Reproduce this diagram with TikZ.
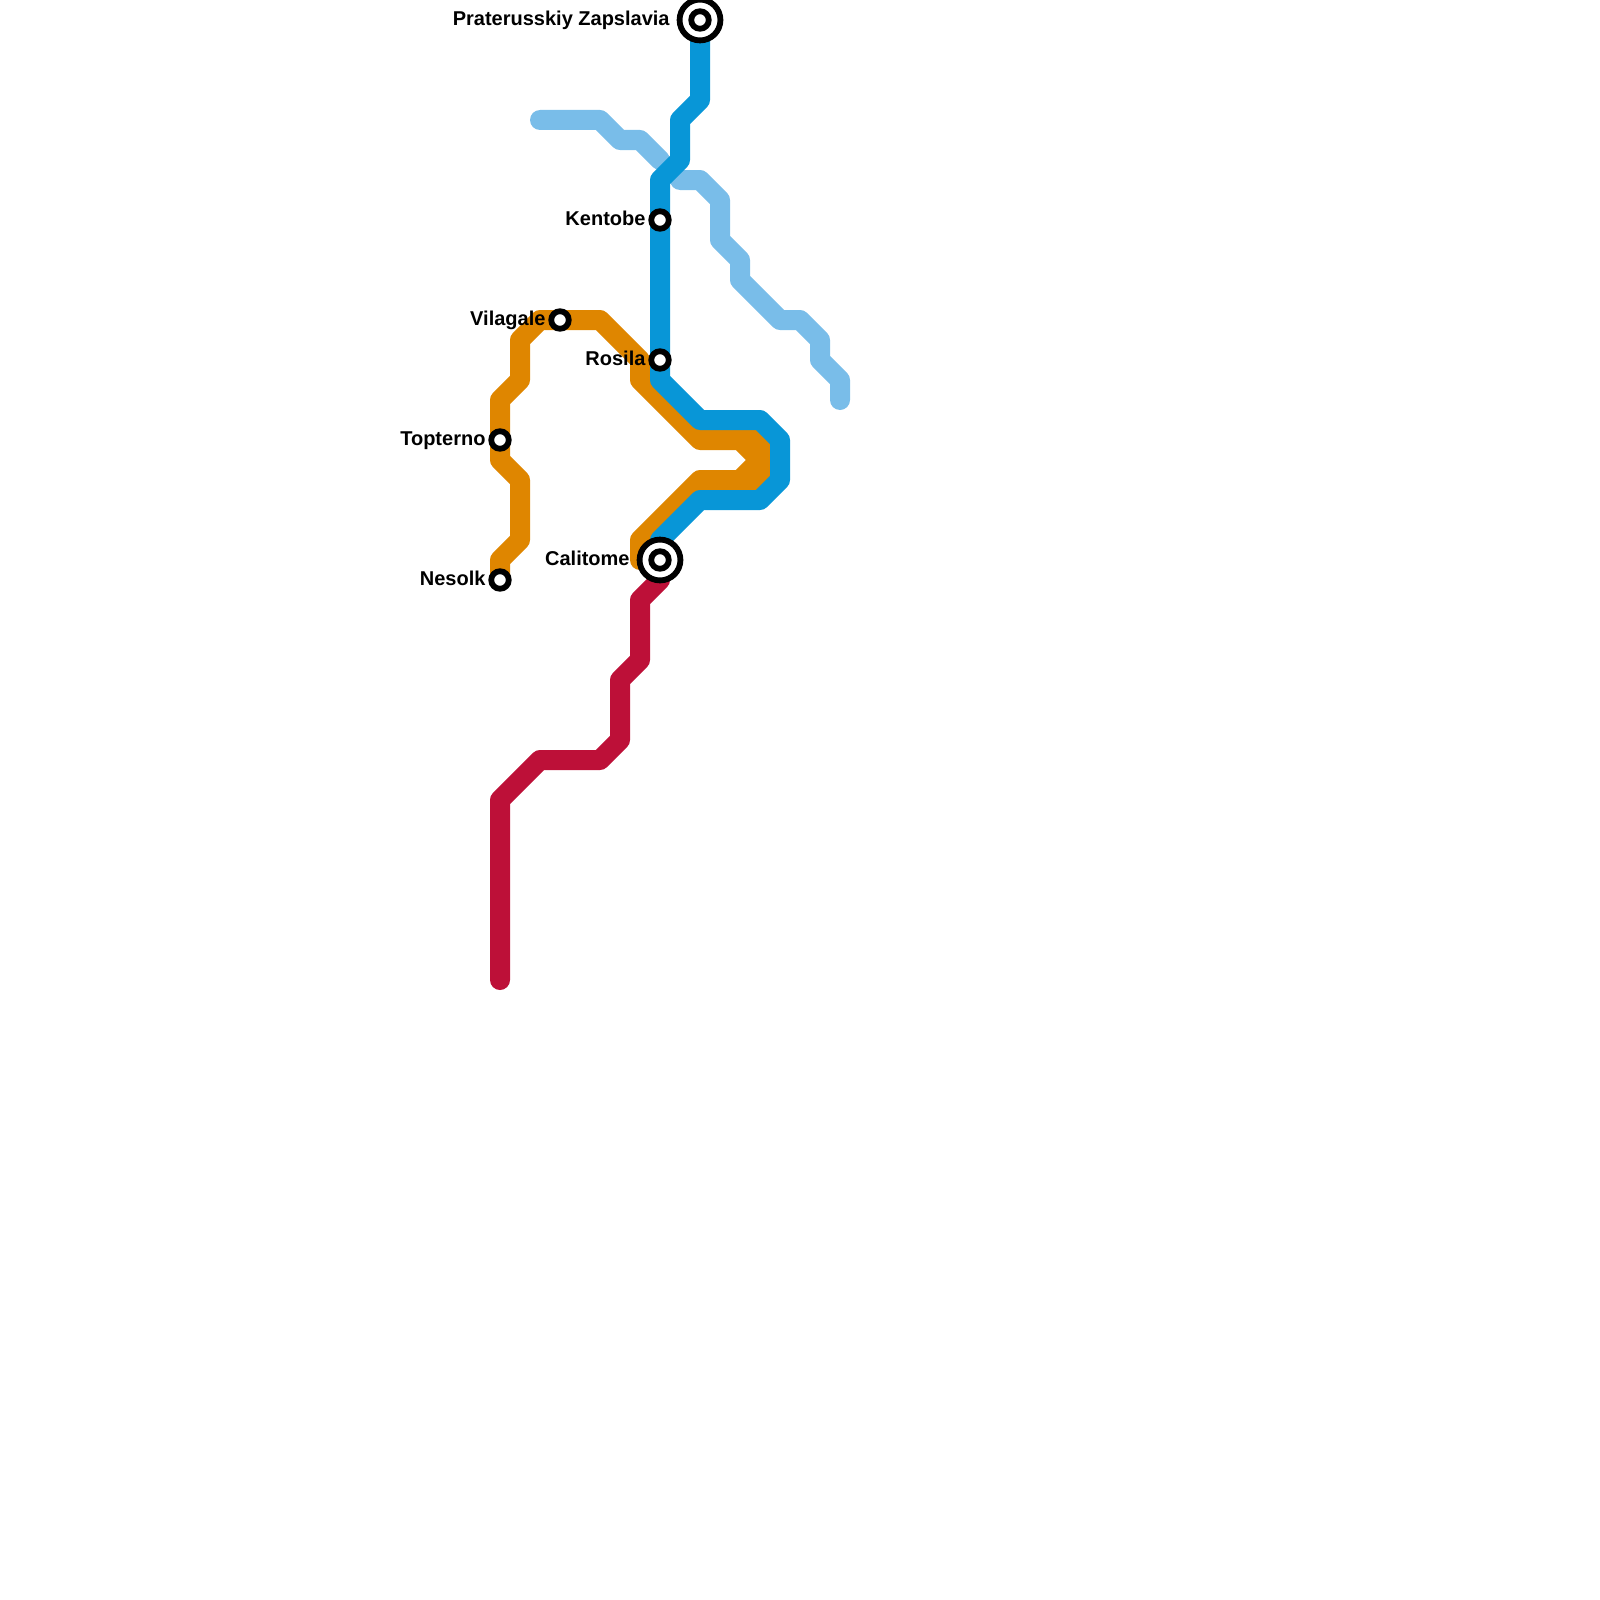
\documentclass[tikz,border=0pt]{standalone}
\usepackage{fontspec}
\setmainfont{Liberation Sans}
\definecolor{darkblue}{HTML}{0896D7}
\definecolor{lightblue}{HTML}{79BDE9}
\definecolor{orangeline}{HTML}{DF8600}
\definecolor{redline}{HTML}{BD1038}
\tikzset{
  metro/.style={line width=10pt,line cap=round,line join=round},
  stop/.style={draw,circle,fill=white,line width=2.9pt,outer sep=0pt,minimum size=8.77pt,inner sep=0pt},
  termring/.style={draw,circle,fill=white,line width=2.9pt,outer sep=0pt,minimum size=20.43pt,inner sep=0pt},
  stoplabel/.style={font=\bfseries\fontsize{10pt}{12pt}\selectfont,text height=7.2pt,text depth=2pt,label distance=-0.65pt},
  termlabel/.style={stoplabel,label distance=1.45pt}
}

\begin{document}
\begin{tikzpicture}[x=0.5pt,y=-0.5pt]
  \useasboundingbox (0,0) rectangle (1600,1600);

  \coordinate (PZ) at (700,20);
  \coordinate (KE) at (660,220);
  \coordinate (RO) at (660,360);
  \coordinate (VI) at (560,320);
  \coordinate (TO) at (500,440);
  \coordinate (NE) at (500,580);
  \coordinate (CA) at (660,560);
  \coordinate (RedEnd) at (500,980);
  \coordinate (LightA) at (540,120);
  \coordinate (LightB) at (660,160);
  \coordinate (LightC) at (680,180);
  \coordinate (LightD) at (840,400);

  \draw[metro,lightblue] (LightA) -- (600,120) -- (620,140) -- (640,140) -- (LightB);
  \draw[metro,lightblue] (LightC) -- (700,180) -- (720,200) -- (720,240) -- (740,260) -- (740,280)
    -- (780,320) -- (800,320) -- (820,340) -- (820,360) -- (840,380) -- (LightD);
  \draw[metro,redline] (CA) -- (660,580) -- (640,600) -- (640,660) -- (620,680) -- (620,740)
    -- (600,760) -- (540,760) -- (500,800) -- (RedEnd);
  \draw[metro,orangeline] (NE) -- (500,560) -- (520,540) -- (520,480) -- (500,460) -- (TO) -- (500,400)
    -- (520,380) -- (520,340) -- (540,320) -- (VI) -- (600,320) -- (640,360) -- (640,380) -- (700,440)
    -- (740,440) -- (760,460) -- (740,480) -- (700,480) -- (640,540) -- (640,560);
  \draw[metro,orangeline] (740,440) -- (760,440) -- (760,480) -- (740,480);
  \draw[metro,darkblue] (PZ) -- (700,100) -- (680,120) -- (680,160) -- (660,180) -- (KE) -- (RO) -- (660,380)
    -- (700,420) -- (760,420) -- (780,440) -- (780,480) -- (760,500) -- (700,500) -- (660,540) -- (CA);

  \node[stop,label={[stoplabel]180:Kentobe}] (Kentobe) at (KE) {};
  \node[stop,label={[stoplabel]180:Rosila}] (Rosila) at (RO) {};
  \node[stop,label={[stoplabel]180:Vilagale}] (Vilagale) at (VI) {};
  \node[stop,label={[stoplabel]180:Topterno}] (Topterno) at (TO) {};
  \node[stop,label={[stoplabel]180:Nesolk}] (Nesolk) at (NE) {};
  \node[termring,label={[termlabel]180:Calitome}] (Calitome) at (CA) {};
  \node[stop] (CalitomeIn) at (Calitome) {};
  \node[termring,label={[termlabel]180:Praterusskiy Zapslavia}] (Praterusskiy) at (PZ) {};
  \node[stop] (PraterusskiyIn) at (Praterusskiy) {};
\end{tikzpicture}
\end{document}
